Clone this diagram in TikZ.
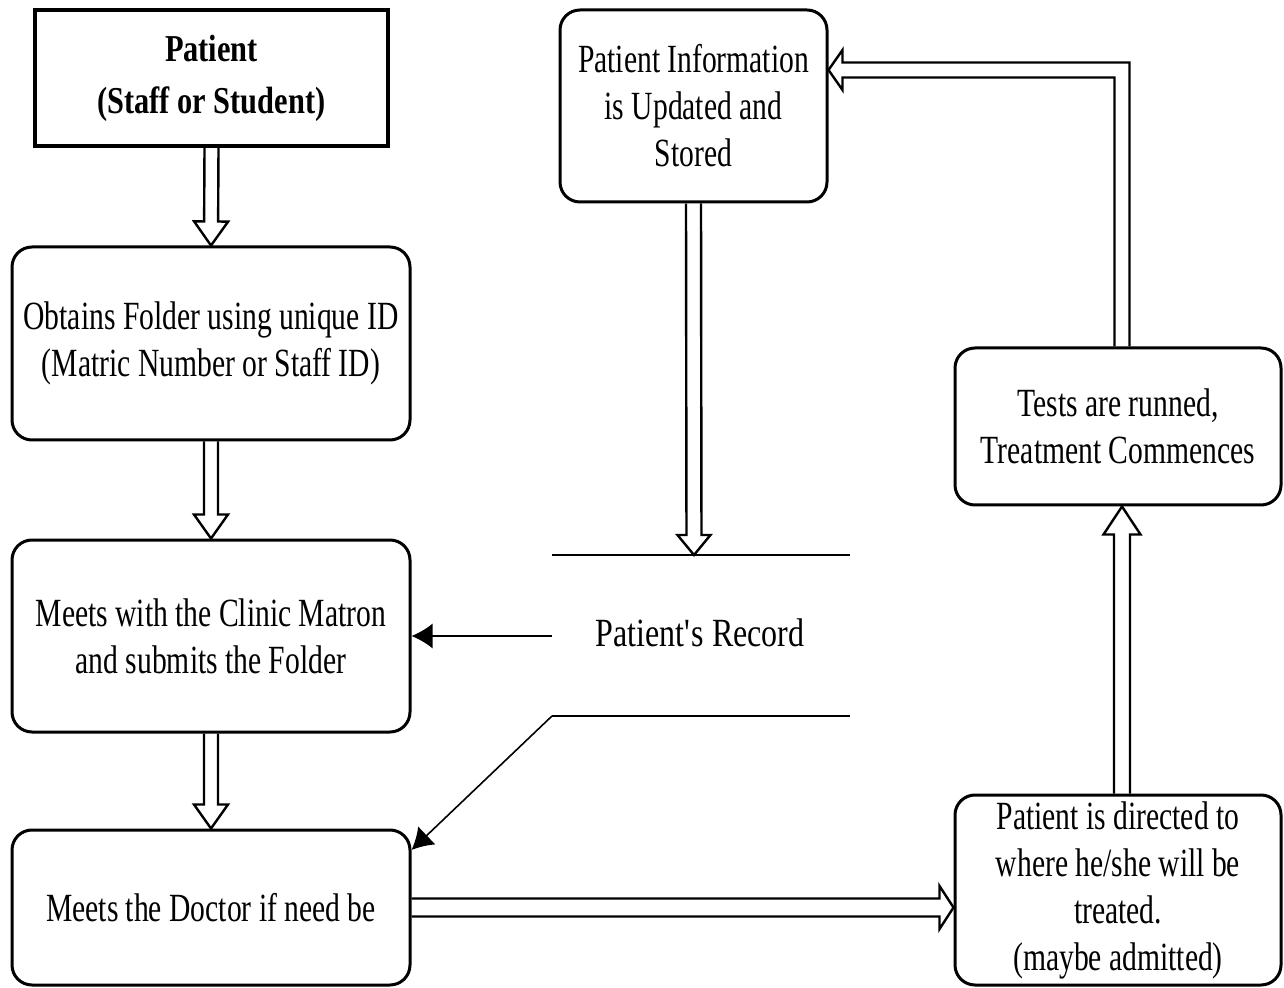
\documentclass[tikz,border=0pt]{standalone}
\usepackage{fontspec}
\setmainfont[FakeStretch=0.8]{Liberation Serif}
\newfontfamily\boxfont[FakeStretch=0.74]{Liberation Serif}
\usetikzlibrary{calc,arrows.meta}

% hollow (outlined) block arrow from #1 to #2; #3 shaft half width, #4 head half width, #5 head length
\newcommand\hollowarrow[5]{%
  \path (#1) coordinate (ha-s) (#2) coordinate (ha-t);
  \path ($(ha-t)!#5!(ha-s)$) coordinate (ha-b);
  \draw[hollowline] ($(ha-s)!#3!90:(ha-t)$) -- ($(ha-b)!#3!90:(ha-t)$)
    -- ($(ha-b)!#4!90:(ha-t)$) -- (ha-t) -- ($(ha-b)!#4!-90:(ha-t)$)
    -- ($(ha-b)!#3!-90:(ha-t)$) -- ($(ha-s)!#3!-90:(ha-t)$);
}

\begin{document}
\begin{tikzpicture}[x=0.5pt,y=-0.5pt,
  box/.style={draw, line width=1.5pt, rounded corners=10pt, fill=white, align=center,
    inner sep=0pt, font={\boxfont\fontsize{20pt}{23.5pt}\selectfont}},
  titlebox/.style={draw, line width=1.7pt, fill=white, align=center, inner sep=0pt,
    font={\fontsize{19pt}{26pt}\selectfont\bfseries}},
  hollowline/.style={draw, line width=1.2pt, line join=miter},
  storeline/.style={line width=1.3pt},
  thinarrow/.style={line width=0.8pt, -{Latex[length=10.5pt,width=12.5pt]}},
  label/.style={font={\fontsize{20pt}{24pt}\selectfont}, inner sep=0pt}
]
\useasboundingbox (0,0) rectangle (1284,988);

% boxes
\node[titlebox, minimum width=176.5pt, minimum height=68pt] (patient) at (211.5,78)
  {Patient\\(Staff or Student)};
\node[box, minimum width=199pt, minimum height=96.5pt] (obtains) at (211,343.5)
  {Obtains Folder using unique ID\\(Matric Number or Staff ID)};
\node[box, minimum width=199pt, minimum height=96pt] (matron) at (211,636)
  {Meets with the Clinic Matron\\and submits the Folder};
\node[box, minimum width=199pt, minimum height=77.5pt] (doctor) at (211,907.5)
  {Meets the Doctor if need be};
\node[box, minimum width=133.5pt, minimum height=96pt] (info) at (693.5,106)
  {Patient Information\\is Updated and\\Stored};
\node[box, minimum width=163pt, minimum height=78.5pt] (tests) at (1118,426.5)
  {Tests are runned,\\Treatment Commences};
\node[box, minimum width=163pt, minimum height=95pt] (directed) at (1118,890)
  {Patient is directed to\\where he/she will be\\treated.\\(maybe admitted)};

% data store
\coordinate (dstl) at (552,555);
\coordinate (dstr) at (850,555);
\coordinate (dsbl) at (552,716);
\coordinate (dsbr) at (850,716);
\coordinate (dstop) at (694,555);
\coordinate (dsl) at (552,636);
\draw[storeline] (dstl) -- (dstr);
\draw[storeline] (dsbl) -- (dsbr);
\node[label] (record) at (700,633) {Patient\textquotesingle s Record};

% thin arrows
\draw[thinarrow] (dsl) -- (matron.east);
\draw[thinarrow] (dsbl) -- (doctor.16);

% hollow arrows
\hollowarrow{patient.south}{obtains.north}{3.5pt}{8.5pt}{12pt}
\hollowarrow{obtains.south}{matron.north}{3.5pt}{8.5pt}{12pt}
\hollowarrow{matron.south}{doctor.north}{3.5pt}{8.5pt}{12pt}
\hollowarrow{info.south}{dstop}{3.75pt}{8.25pt}{10pt}
\hollowarrow{doctor.east}{directed.west |- doctor.east}{4.5pt}{10.75pt}{7pt}

\coordinate (elb) at (1122,70);
\coordinate (tip) at (info.east |- elb);
\hollowarrow{directed.north -| elb}{tests.south -| elb}{4pt}{9.25pt}{14pt}
\draw[hollowline] ($(tests.north -| elb)+(-7.5,0)$) -- ($(elb)+(-7.5,7.5)$)
  -- ($(tip)+(14,7.5)$) -- ($(tip)+(14,20)$) -- (tip) -- ($(tip)+(14,-20)$)
  -- ($(tip)+(14,-7.5)$) -- ($(elb)+(7.5,-7.5)$) -- ($(tests.north -| elb)+(7.5,0)$);
\end{tikzpicture}
\end{document}
